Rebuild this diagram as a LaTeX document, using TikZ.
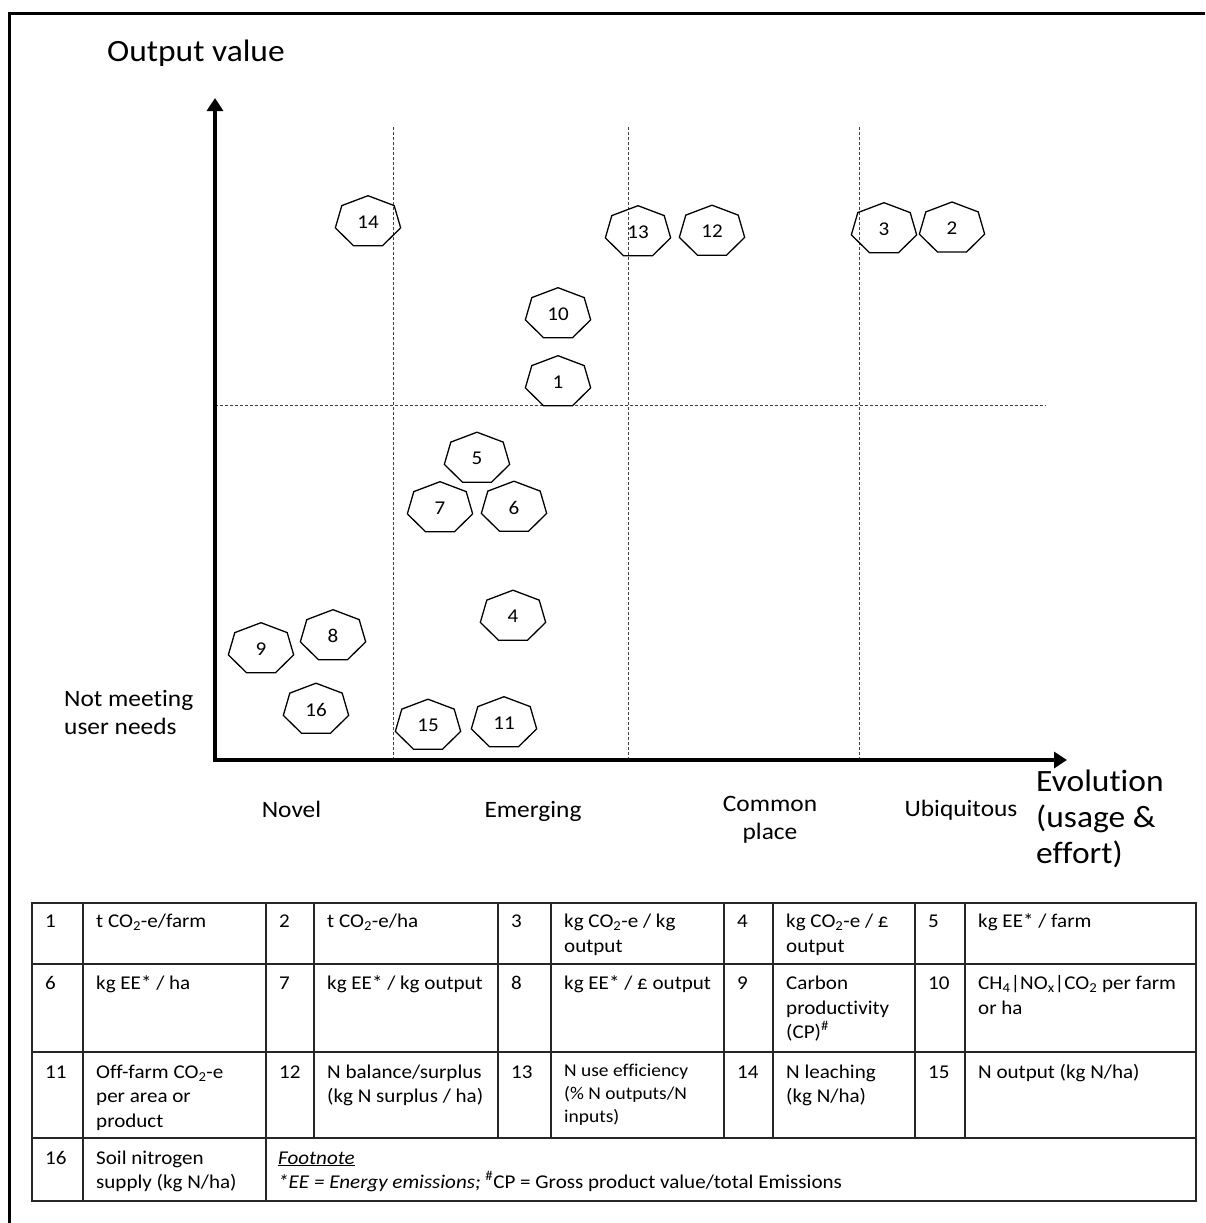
\documentclass[tikz,border=0pt]{standalone}
\usepackage{fontspec}
\setmainfont{Carlito}[FakeStretch=1.08, Ligatures=NoCommon]
\usetikzlibrary{positioning,calc,arrows.meta}

\newcommand\heptmark[3]{%
  \node[heptnum] (hept#1) at (#2,#3) {#1};
  \draw[heptline, shift={(hept#1)}] (90:33.5pt and 26.3pt)
    \foreach \k in {1,...,6} {-- ({90+\k*360/7}:33.5pt and 26.3pt)} -- cycle;
}

\begin{document}
\begin{tikzpicture}[x=1pt, y=-1pt,
    axis/.style={line width=4pt,
      {Triangle[length=13pt,width=16pt]}-{Triangle[length=13pt,width=16pt]}},
    gridline/.style={black!75, line width=0.9pt, dash pattern=on 3pt off 2pt},
    heptnum/.style={inner sep=0pt, font=\fontsize{19.5}{23}\selectfont},
    heptline/.style={line width=1.3pt},
    bigtext/.style={inner sep=0pt, align=left, font=\fontsize{31}{36}\selectfont},
    phase/.style={inner sep=0pt, align=center, font=\fontsize{23.5}{28}\selectfont},
    celltext/.style={inner sep=0pt, anchor=base west, align=left,
      font=\fontsize{19.5}{24.5}\selectfont},
    tableline/.style={black!85, line width=2pt}]
  \useasboundingbox (0,0) rectangle (1205,1223);
  \draw[line width=3pt] (9.5,1223) -- (9.5,13.7) -- (1205,13.7);

  \foreach \x in {393,628,859}
    \draw[gridline] (\x,127) -- (\x,760);
  \draw[gridline] (215,405.5) -- (1046,405.5);

  \coordinate (origin) at (215,760);
  \coordinate (ytip) at (215,98);
  \coordinate (xtip) at (1067,760);
  \draw[axis] (ytip) -- (origin) -- (xtip);

  \node[bigtext, anchor=base west] (ylabel) at (107,62) {Output value};
  \node[bigtext, anchor=base west] (xlabel) at (1036,863.5) {Evolution\\(usage \&\\effort)};
  \node[phase, anchor=base west, align=left] (unmet) at (64,734) {Not meeting\\user needs};
  \node[phase, anchor=base] (novel) at (291.5,817) {Novel};
  \node[phase, anchor=base] (emerging) at (533,817) {Emerging};
  \node[phase, anchor=base] (common) at (770,839.7) {Common\\place};
  \node[phase, anchor=base] (ubiquitous) at (961,816.7) {Ubiquitous};

  \heptmark{14}{368}{222}
  \heptmark{13}{638}{232}
  \heptmark{12}{712}{231.5}
  \heptmark{3}{884}{229}
  \heptmark{2}{952}{228.3}
  \heptmark{10}{558}{314}
  \heptmark{1}{558}{382}
  \heptmark{5}{477}{458.5}
  \heptmark{7}{440}{508}
  \heptmark{6}{514}{507.5}
  \heptmark{4}{513}{616.5}
  \heptmark{9}{261}{649}
  \heptmark{8}{333}{636}
  \heptmark{16}{316}{709.5}
  \heptmark{15}{428}{725.5}
  \heptmark{11}{504}{723}

  \draw[tableline] (32,903) rectangle (1196,1201);
  \foreach \y in {964,1052,1138}
    \draw[tableline] (32,\y) -- (1196,\y);
  \foreach \x in {83,266}
    \draw[tableline] (\x,903) -- (\x,1201);
  \foreach \x in {314,498,551,724,773,915,965}
    \draw[tableline] (\x,903) -- (\x,1138);

  \foreach \n/\x/\y in {1/45/927.5, 2/279/927.5, 3/511/927.5, 4/737/927.5, 5/928/927.5,
      6/45/989.5, 7/279/989.5, 8/511/989.5, 9/737/989.5, 10/928/989.5,
      11/45/1078, 12/279/1078, 13/511/1078, 14/737/1078, 15/928/1078,
      16/45/1164}
    \node[celltext] (num\n) at (\x,\y) {\n};

  \node[celltext] (desc1) at (96,927.5) {t CO\textsubscript{2}-e/farm};
  \node[celltext] (desc2) at (327,927.5) {t CO\textsubscript{2}-e/ha};
  \node[celltext] (desc3) at (564,952) {kg CO\textsubscript{2}-e / kg\\output};
  \node[celltext] (desc4) at (786,952) {kg CO\textsubscript{2}-e / £\\output};
  \node[celltext] (desc5) at (978,927.5) {kg EE* / farm};
  \node[celltext] (desc6) at (96,989.5) {kg EE* / ha};
  \node[celltext] (desc7) at (327,989.5) {kg EE* / kg output};
  \node[celltext] (desc8) at (564,989.5) {kg EE* / £ output};
  \node[celltext] (desc9) at (786,1038.5) {Carbon\\productivity\\(CP)\textsuperscript{\#}};
  \node[celltext] (desc10) at (978,1014)
    {CH\textsubscript{4}|NO\textsubscript{x}|CO\textsubscript{2} per farm\\or ha};
  \node[celltext] (desc11) at (96,1127) {Off-farm CO\textsubscript{2}-e\\per area or\\product};
  \node[celltext] (desc12) at (327,1102.5) {N balance/surplus\\(kg N surplus / ha)};
  \node[celltext,
    font=\fontsize{18}{23.3}\selectfont] (desc13) at (564,1122.6) {N use efficiency\\(\% N outputs/N\\inputs)};
  \node[celltext] (desc14) at (786,1102.5) {N leaching\\(kg N/ha)};
  \node[celltext] (desc15) at (978,1078) {N output (kg N/ha)};
  \node[celltext] (desc16) at (96,1188.5) {Soil nitrogen\\supply (kg N/ha)};
  \node[celltext] (footnote) at (278,1188.5)
    {\underline{\textit{Footnote}}\\\textit{*EE = Energy emissions;} \textsuperscript{\#}CP = Gross product value/total Emissions};
\end{tikzpicture}
\end{document}
